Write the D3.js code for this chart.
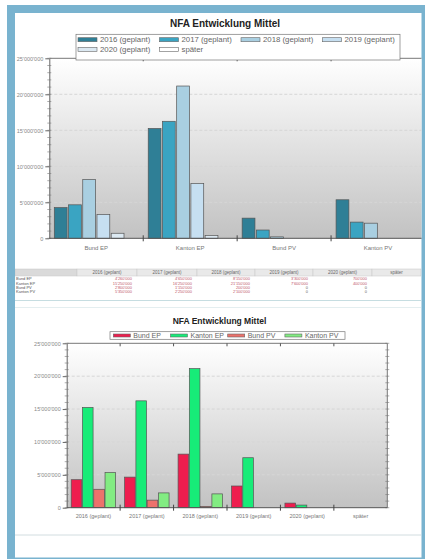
<!DOCTYPE html>
<html>
<head>
<meta charset="utf-8">
<script src="https://cdn.jsdelivr.net/npm/d3@7"></script>
<style>
  body { margin: 0; background: #fff; }
  text { font-family: "Liberation Sans", Arial, sans-serif; }
</style>
</head>
<body>
<script>
// categories / series
const categories = ['Bund EP', 'Kanton EP', 'Bund PV', 'Kanton PV']
const years = ['2016 (geplant)', '2017 (geplant)', '2018 (geplant)', '2019 (geplant)', '2020 (geplant)', 'später']

// values per category, one per year (später has no values)
const bundEP   = [4260000, 4650000, 8150000, 3300000, 700000, null]
const kantonEP = [15250000, 16250000, 21150000, 7600000, 400000, null]
const bundPV   = [2800000, 1150000, 200000, 0, 0, null]
const kantonPV = [5350000, 2250000, 2100000, 0, 0, null]

const yTicks = [0, 5000000, 10000000, 15000000, 20000000, 25000000]
const yMinor = d3.range(0, 25000001, 1000000)

const yearColors = ['#2f7f96', '#3aa4c2', '#a9cfe1', '#c6dff1', '#dce9f2', '#ffffff']
const catColors = ['#ee1d4e', '#17ec78', '#ec726c', '#82ec82']

const valuesByCat = [bundEP, kantonEP, bundPV, kantonPV]

const fmt = d3.formatLocale({decimal: '.', thousands: "'", grouping: [3], currency: ['', '']}).format(',')

const svg = d3.select('body')
              .append('svg')
              .attr('width', 425)
              .attr('height', 559)

const defs = svg.append('defs')
const grad = defs.append('linearGradient')
                 .attr('id', 'plotBg')
                 .attr('x1', 0).attr('y1', 0)
                 .attr('x2', 0).attr('y2', 1)
grad.append('stop').attr('offset', 0).attr('stop-color', '#ffffff')
grad.append('stop').attr('offset', 1).attr('stop-color', '#c2c2c2')

defs.append('clipPath')
    .attr('id', 'panel')
    .append('rect')
    .attr('x', 15).attr('y', 13)
    .attr('width', 406.5).attr('height', 544.5)

// page frame
svg.append('rect')
   .attr('x', 7).attr('y', 5)
   .attr('width', 418).attr('height', 554)
   .style('fill', '#79b3cf')
svg.append('rect')
   .attr('x', 15).attr('y', 13)
   .attr('width', 406.5).attr('height', 544.5)
   .style('fill', '#ffffff')

const page = svg.append('g').attr('clip-path', 'url(#panel)')

function drawChart(cfg) {
    const g = page.append('g')

    const x0 = d3.scaleBand()
                 .domain(cfg.groups)
                 .range([cfg.left, cfg.right])
    const x1 = d3.scaleBand()
                 .domain(cfg.subs)
                 .range([cfg.pad, x0.bandwidth() - cfg.pad])
                 .paddingInner(cfg.inner)
    const y = d3.scaleLinear()
                .domain([0, 25000000])
                .range([cfg.bottom, cfg.top])

    g.append('rect')
     .attr('x', cfg.left)
     .attr('y', cfg.top)
     .attr('width', cfg.right - cfg.left)
     .attr('height', cfg.bottom - cfg.top)
     .style('fill', 'url(#plotBg)')

    g.selectAll('.grid')
     .data(yTicks.slice(1, -1))
     .enter()
     .append('line')
     .attr('x1', cfg.left)
     .attr('x2', cfg.right)
     .attr('y1', d => y(d))
     .attr('y2', d => y(d))
     .style('stroke', '#d6d6d6')
     .style('stroke-dasharray', '3,2')

    const grp = g.selectAll('.grp')
                 .data(cfg.groups)
                 .enter()
                 .append('g')
                 .attr('transform', d => `translate(${x0(d)},0)`)

    grp.selectAll('rect')
       .data((d, gi) => cfg.subs.map((s, si) => ({s: s, si: si, v: cfg.value(gi, si)})).filter(b => b.v !== null))
       .enter()
       .append('rect')
       .attr('x', d => x1(d.s))
       .attr('y', d => y(d.v))
       .attr('width', x1.bandwidth())
       .attr('height', d => y(0) - y(d.v))
       .style('fill', d => cfg.colors[d.si])
       .style('stroke', '#555')
       .style('stroke-width', 0.7)

    // y axis
    const yAxis = g.append('g')
                   .attr('transform', `translate(${cfg.left},0)`)
                   .call(d3.axisLeft(y).tickValues(yTicks).tickSize(4).tickSizeOuter(0).tickPadding(2).tickFormat(fmt))
    yAxis.select('.domain').style('stroke', '#666')
    yAxis.selectAll('.tick line').style('stroke', '#666')
    yAxis.selectAll('text')
         .style('font-size', '5.5px')
         .style('fill', '#888')

    g.selectAll('.minor')
     .data(yMinor)
     .enter()
     .append('line')
     .attr('x1', cfg.left - 2)
     .attr('x2', cfg.left + 2)
     .attr('y1', d => y(d))
     .attr('y2', d => y(d))
     .style('stroke', '#777')
     .style('stroke-width', 0.6)

    if (cfg.rightAxis) {
        g.append('line')
         .attr('x1', cfg.right).attr('x2', cfg.right)
         .attr('y1', cfg.top).attr('y2', cfg.bottom)
         .style('stroke', '#777')
        g.selectAll('.minorR')
         .data(yMinor)
         .enter()
         .append('line')
         .attr('x1', cfg.right - 2)
         .attr('x2', cfg.right + 2)
         .attr('y1', d => y(d))
         .attr('y2', d => y(d))
         .style('stroke', '#777')
         .style('stroke-width', 0.6)
    }

    // top border and baseline
    const seps = cfg.groups.slice(1).map(d => x0(d))
    g.append('line')
     .attr('x1', cfg.left).attr('x2', cfg.right)
     .attr('y1', cfg.top).attr('y2', cfg.top)
     .style('stroke', '#777')
    g.selectAll('.topTick')
     .data(seps)
     .enter()
     .append('line')
     .attr('x1', d => d).attr('x2', d => d)
     .attr('y1', cfg.top).attr('y2', cfg.top + 3)
     .style('stroke', '#555')

    g.append('line')
     .attr('x1', cfg.left).attr('x2', cfg.right)
     .attr('y1', y(0)).attr('y2', y(0))
     .style('stroke', '#555')
    g.selectAll('.botTick')
     .data(seps)
     .enter()
     .append('line')
     .attr('x1', d => d).attr('x2', d => d)
     .attr('y1', y(0) - 3).attr('y2', y(0) + 3)
     .style('stroke', '#444')

    g.selectAll('.xlab')
     .data(cfg.groups)
     .enter()
     .append('text')
     .attr('x', d => x0(d) + x0.bandwidth() / 2)
     .attr('y', y(0) + cfg.labelDy)
     .attr('text-anchor', 'middle')
     .style('font-size', cfg.labelSize)
     .style('fill', '#777')
     .text(d => d)

    g.append('text')
     .attr('x', cfg.titleX)
     .attr('y', cfg.titleY)
     .attr('text-anchor', 'middle')
     .style('font-size', cfg.titleSize)
     .style('font-weight', 'bold')
     .style('fill', '#222')
     .text('NFA Entwicklung Mittel')

    // legend
    const lg = cfg.legend
    g.append('rect')
     .attr('x', lg.x).attr('y', lg.y)
     .attr('width', lg.w).attr('height', lg.h)
     .style('fill', '#fff')
     .style('stroke', '#777')
     .style('stroke-width', 0.7)
    const item = g.selectAll('.legend-item')
                  .data(cfg.subs)
                  .enter()
                  .append('g')
                  .attr('transform', (d, i) => `translate(${lg.x0 + (i % lg.cols) * lg.step},${lg.y0 + Math.floor(i / lg.cols) * lg.rowH})`)
    item.append('rect')
        .attr('x', 0)
        .attr('y', -lg.sh / 2)
        .attr('width', lg.sw)
        .attr('height', lg.sh)
        .style('fill', (d, i) => cfg.colors[i])
        .style('stroke', '#666')
        .style('stroke-width', 0.6)
    item.append('text')
        .attr('x', lg.sw + 3)
        .attr('y', lg.font * 0.35)
        .style('font-size', lg.font + 'px')
        .style('fill', '#666')
        .text(d => d)
}

// chart 1: grouped by category, one bar per year
drawChart({
    groups: categories,
    subs: years,
    value: (gi, si) => valuesByCat[gi][si],
    colors: yearColors,
    left: 49.3, right: 425, top: 58.3, bottom: 238.3,
    pad: 5, inner: 0.1,
    labelDy: 12, labelSize: '6px',
    titleX: 225, titleY: 26.5, titleSize: '10px',
    legend: {x: 76, y: 34.3, w: 324, h: 25.7, x0: 78, y0: 39.7, cols: 4, step: 81.5, rowH: 9.6, sw: 19, sh: 4, font: 7.8}
})

// table under chart 1
const colEdges = [15, 77, 137, 197, 255, 313, 372, 421]
const table = page.append('g')
table.selectAll('.head')
     .data(d3.range(7))
     .enter()
     .append('rect')
     .attr('x', i => colEdges[i])
     .attr('y', 269)
     .attr('width', i => colEdges[i + 1] - colEdges[i])
     .attr('height', 7)
     .style('fill', i => i === 0 ? '#dadada' : '#e9e9e9')
     .style('stroke', '#c8c8c8')
     .style('stroke-width', 0.5)
table.selectAll('.headText')
     .data(years)
     .enter()
     .append('text')
     .attr('x', (d, i) => (colEdges[i + 1] + colEdges[i + 2]) / 2)
     .attr('y', 274)
     .attr('text-anchor', 'middle')
     .style('font-size', '4.5px')
     .style('fill', '#666')
     .text(d => d)
const row = table.selectAll('.row')
                 .data(categories)
                 .enter()
                 .append('g')
                 .attr('transform', (d, i) => `translate(0,${280.4 + i * 4.3})`)
row.append('text')
   .attr('x', 16)
   .style('font-size', '4px')
   .style('fill', '#555')
   .text(d => d)
row.selectAll('.val')
   .data((d, i) => valuesByCat[i])
   .enter()
   .append('text')
   .attr('x', (d, i) => colEdges[i + 2] - 5)
   .attr('text-anchor', 'end')
   .style('font-size', '4px')
   .style('fill', d => d ? '#c0566a' : '#666')
   .text(d => d === null ? '' : fmt(d))
table.append('line')
     .attr('x1', 15).attr('x2', 421)
     .attr('y1', 300.5).attr('y2', 300.5)
     .style('stroke', '#c6dde1')
table.append('line')
     .attr('x1', 15).attr('x2', 421)
     .attr('y1', 307.5).attr('y2', 307.5)
     .style('stroke', '#e4eef0')

// chart 2: grouped by year, one bar per category
drawChart({
    groups: years,
    subs: categories,
    value: (gi, si) => valuesByCat[si][gi],
    colors: catColors,
    left: 66.7, right: 387.3, top: 343.3, bottom: 507.7,
    pad: 4.5, inner: 0.06, rightAxis: true,
    labelDy: 10.5, labelSize: '5.5px',
    titleX: 219.5, titleY: 323.7, titleSize: '8.5px',
    legend: {x: 110, y: 331.7, w: 235, h: 7.6, x0: 113.3, y0: 335.5, cols: 4, step: 57.2, rowH: 0, sw: 17, sh: 3, font: 7}
})

// footer line
page.append('line')
    .attr('x1', 15).attr('x2', 421)
    .attr('y1', 535).attr('y2', 535)
    .style('stroke', '#d2dde0')
</script>
</body>
</html>
